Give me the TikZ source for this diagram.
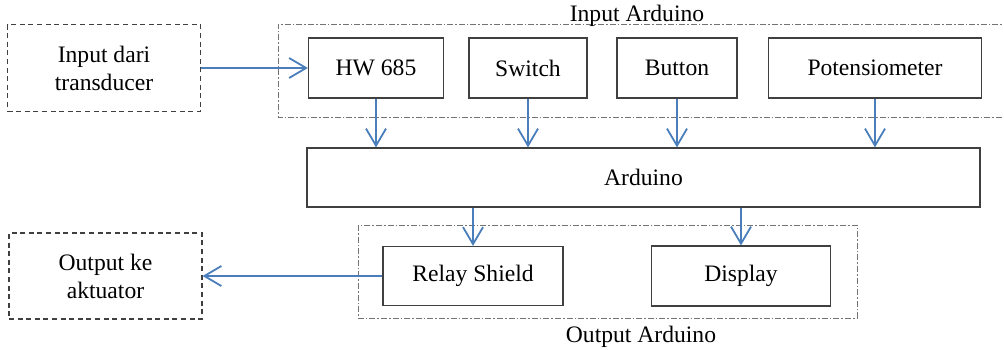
\documentclass[tikz,border=0pt]{standalone}
\usepackage{fontspec}
\setmainfont{Liberation Serif}
\usetikzlibrary{arrows.meta}
\tikzset{x=0.5pt, y=-0.5pt,
    every node/.style={font=\rmfamily\fontsize{11.8}{14}\selectfont, align=center},
    blok/.style={draw=black!75, line width=0.6pt, inner sep=0pt},
    luar/.style={draw=black!75, line width=0.6pt, dash pattern=on 2.5pt off 1.8pt, inner sep=0pt},
    grup/.style={draw=black!55, line width=0.5pt, dash pattern=on 3pt off 1pt on 0.8pt off 1pt},
    panah/.style={draw={rgb,255:red,74;green,126;blue,187}, line width=0.9pt,
        -{Straight Barb[length=8.5pt, width=10pt, line width=0.9pt]}},
    }
\begin{document}
\begin{tikzpicture}
\useasboundingbox (0,0) rectangle (1004,349);
% kelompok input / output
\draw[grup] (1010,24) -- (278,24) -- (278,117) -- (1010,117);
\node (lblin) at (637,16) {Input Arduino};
\draw[grup] (358,225) rectangle (857,318);
\node (lblout) at (641,337) {Output Arduino};
% blok luar
\node[luar, minimum width=96.5pt, minimum height=43.5pt] (trans) at (104,68) {Input dari\\transducer};
\node[luar, minimum width=96.5pt, minimum height=43pt] (akt) at (105.5,276) {Output ke\\aktuator};
% blok input
\node[blok, minimum width=67.5pt, minimum height=30pt] (hw) at (376,68) {HW 685};
\node[blok, minimum width=59pt, minimum height=30pt] (sw) at (528,68) {Switch};
\node[blok, minimum width=60pt, minimum height=30pt] (btn) at (677,68) {Button};
\node[blok, minimum width=106.5pt, minimum height=30pt] (pot) at (875,68) {Potensiometer};
% arduino
\node[blok, minimum width=336.5pt, minimum height=29.5pt] (ard) at (643.5,177.5) {Arduino};
% blok output
\node[blok, minimum width=90pt, minimum height=29.5pt] (relay) at (473,276) {Relay Shield};
\node[blok, minimum width=89.5pt, minimum height=30pt] (disp) at (741,276) {Display};
% panah
\draw[panah] (trans.east) -- (hw.west);
\foreach \n in {hw, sw, btn, pot}
    \draw[panah] (\n.south) -- (\n.south |- ard.north);
\draw[panah] (relay.north |- ard.south) -- (relay.north);
\draw[panah] (disp.north |- ard.south) -- (disp.north);
\draw[panah] (relay.west) -- (akt.east);
\end{tikzpicture}
\end{document}
